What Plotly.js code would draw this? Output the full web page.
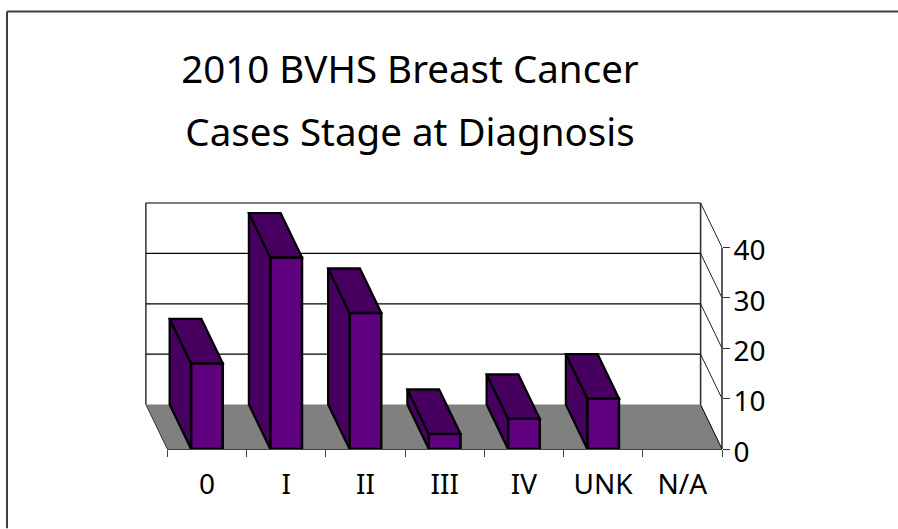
<!DOCTYPE html>
<html>
<head>
<meta charset="utf-8">
<script src="https://cdn.plot.ly/plotly-3.0.1.min.js"></script>
<style>html,body{margin:0;padding:0;background:#fff;overflow:hidden}</style>
</head>
<body>
<div id="chart" style="width:898px;height:529px"></div>
<script>
const categories = ['0', 'I', 'II', 'III', 'IV', 'UNK', 'N/A'];
const cases = [17, 38, 27, 3, 6, 10, 0];
const yTicks = [0, 10, 20, 30, 40];

const depthX = 0.27;     // category units the floor recedes to the left
const depthY = 8.81;     // value units the floor recedes upward
const barWidth = 0.4;
const frontColor = '#5F007F';
const shadeColor = '#47005F';
const floorColor = '#808080';
const font = 'Noto Sans, Open Sans, sans-serif';

const W = 898, H = 529, L = 143, R = 722, T = 201, B = 449.5;
const catPx = (R - 167.3) / categories.length;
const xMin = -0.5, xMax = categories.length - 0.5;
const px = p => (p - L) / (R - L);
const py = p => (B - p) / (B - T);

const sideX = [], sideY = [], topX = [], topY = [];
categories.forEach((c, i) => {
  const v = cases[i];
  if (!v) return;
  const a = i - barWidth / 2, b = i + barWidth / 2;
  sideX.push(a, a - depthX, a - depthX, a, a, null);
  sideY.push(0, depthY, v + depthY, v, 0, null);
  topX.push(a, a - depthX, b - depthX, b, a, null);
  topY.push(v, v + depthY, v + depthY, v, v, null);
});

const seg = (x0, y0, x1, y1, color, width) => ({
  type: 'line', layer: 'below', xref: 'x', yref: 'y', x0, y0, x1, y1,
  line: {color, width}
});

const shapes = [
  {type: 'path', layer: 'below', xref: 'x', yref: 'y',
   path: `M${xMin},0 L${xMin - depthX},${depthY} L${xMax - depthX},${depthY} L${xMax},0 Z`,
   fillcolor: floorColor, line: {width: 0}},
  seg(xMin - depthX, depthY, xMin - depthX, 40 + depthY, '#000', 1.2),
  seg(xMax - depthX, depthY, xMax - depthX, 40 + depthY, '#333', 1.6),
  seg(xMin - depthX, depthY, xMin, 0, '#333', 1),
  seg(xMax - depthX, depthY, xMax, 0, '#000', 1),
  // floor front edge and value axis sit on the plot edge, so one side uses paper units to avoid clipping
  {type: 'line', layer: 'below', xref: 'x', yref: 'paper', x0: xMin, x1: xMax, y0: 0, y1: 0, line: {color: '#000', width: 1.4}},
  {type: 'line', layer: 'below', xref: 'paper', yref: 'y', x0: 1, x1: 1, y0: 0, y1: 40, line: {color: '#333', width: 1.6}}
];
yTicks.forEach(t => {
  if (t > 0) shapes.push(seg(xMin - depthX, t + depthY, xMax - depthX, t + depthY, '#000', 1.2));
  if (t > 0) shapes.push(seg(xMax - depthX, t + depthY, xMax, t, '#222', 1));
});
// slide frame: top and left edges only
shapes.push({type: 'line', xref: 'paper', yref: 'paper', x0: px(7), x1: px(898), y0: py(11), y1: py(11), line: {color: '#404040', width: 2}});
shapes.push({type: 'line', xref: 'paper', yref: 'paper', x0: px(7), x1: px(7), y0: py(11), y1: py(529), line: {color: '#404040', width: 2}});

const traces = [
  {type: 'bar', x: categories.map((c, i) => i), y: cases, width: barWidth, cliponaxis: false,
   marker: {color: frontColor, line: {color: '#000', width: cases.map(v => v ? 2.5 : 0)}}, hoverinfo: 'y'},
  {type: 'scatter', mode: 'lines', x: sideX, y: sideY, fill: 'toself', fillcolor: shadeColor, cliponaxis: false,
   line: {color: '#000', width: 2.3}, hoverinfo: 'skip', connectgaps: false},
  {type: 'scatter', mode: 'lines', x: topX, y: topY, fill: 'toself', fillcolor: shadeColor, cliponaxis: false,
   line: {color: '#000', width: 2.3}, hoverinfo: 'skip', connectgaps: false}
];

const boundaries = categories.map((c, i) => i - 0.5).concat(xMax);

const layout = {
  width: W, height: H,
  margin: {l: L, r: W - R, t: T, b: H - B},
  paper_bgcolor: '#fff', plot_bgcolor: '#fff',
  showlegend: false,
  font: {family: font, color: '#000'},
  title: {
    text: '<span style="font-size:38.5px">2010 BVHS Breast Cancer</span><br><span style="font-size:38.5px">Cases Stage at Diagnosis</span>',
    font: {family: font, size: 48.5, color: '#000'},
    x: 410 / W, xanchor: 'center', y: 1 - 83 / H, yanchor: 'top'
  },
  xaxis: {
    range: [xMin - (167.3 - L) / catPx, xMax], tickmode: 'array',
    tickvals: categories.map((c, i) => i), ticktext: categories,
    ticks: '', showgrid: false, zeroline: false, showline: false,
    tickfont: {family: font, size: 28, color: '#000'}, ticklabelstandoff: 16,
    minor: {tickmode: 'array', tickvals: boundaries, ticks: 'outside', ticklen: 7, tickwidth: 1, tickcolor: '#444', showgrid: false}
  },
  yaxis: {
    range: [0, (B - T) / 5.05], side: 'right', tickmode: 'array', tickvals: yTicks,
    ticks: 'outside', ticklen: 7, tickwidth: 1, tickcolor: '#333',
    showgrid: false, zeroline: false, showline: false,
    tickfont: {family: font, size: 28, color: '#000'},
    ticklabelstandoff: -2, ticklabelshift: 3
  },
  shapes: shapes
};

Plotly.newPlot('chart', traces, layout, {displayModeBar: false, staticPlot: true});
</script>
</body>
</html>
